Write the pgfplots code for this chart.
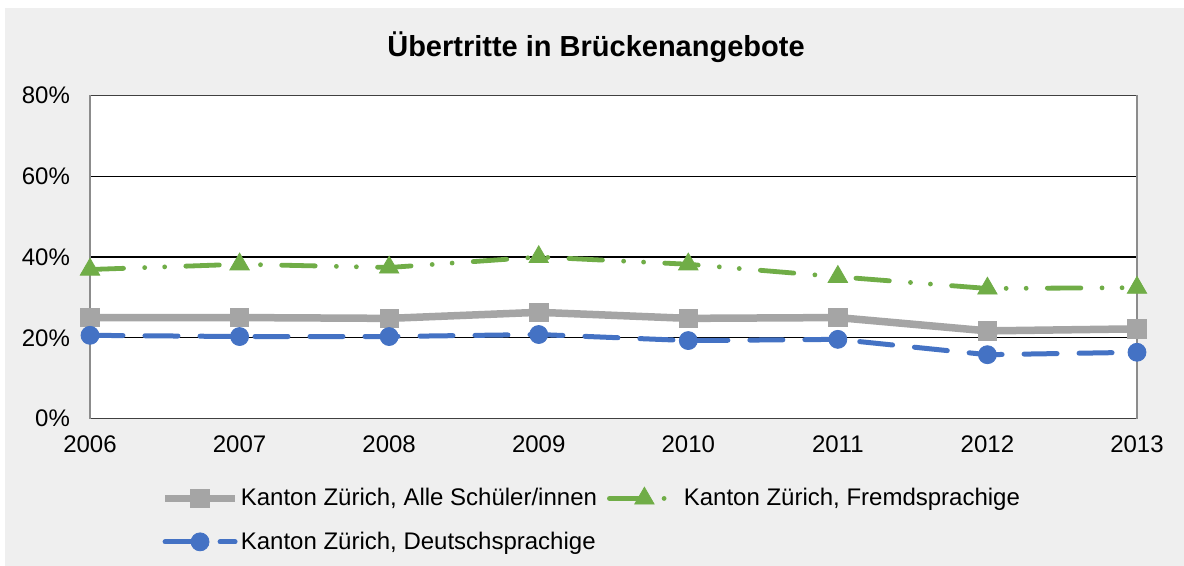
\documentclass[border=0pt]{standalone}
\usepackage{fontspec}
\setmainfont{Liberation Sans}
\usepackage{pgfplots}
\pgfplotsset{compat=1.18}
\definecolor{bg}{HTML}{EFEFEF}
\definecolor{sgray}{HTML}{A5A5A5}
\definecolor{sgreen}{HTML}{70AD47}
\definecolor{sblue}{HTML}{4472C4}
\definecolor{axgray}{HTML}{8C8C8C}
\begin{document}
\begin{tikzpicture}
\fill[white] (0,0) rectangle (592pt,-283pt);
\fill[bg] (2.5pt,-4pt) rectangle (592pt,-283pt);
\begin{axis}[
  at={(45pt,-209.25pt)}, anchor=south west,
  scale only axis, width=523.5pt, height=161.5pt,
  xmin=2006, xmax=2013, ymin=0, ymax=80,
  xtick={2006,2007,2008,2009,2010,2011,2012,2013},
  xticklabels={2006,2007,2008,2009,2010,2011,2012,2013},
  ytick={0,20,40,60,80},
  yticklabels={0\%,20\%,40\%,60\%,80\%},
  tick style={draw=none},
  axis background/.style={fill=white},
  separate axis lines,
  x axis line style={black!75, line width=0.8pt},
  y axis line style={axgray, line width=1pt},
  ymajorgrids, grid style={black, line width=0.6pt},
  clip=false,
  tick label style={font=\fontsize{12}{14}\selectfont},
  yticklabel style={xshift=-6.5pt},
  xticklabel style={yshift=-5pt},
  title={Übertritte in Brückenangebote},
  title style={font=\fontsize{14.5}{17}\selectfont\bfseries, at={(axis description cs:0.5,1)}, anchor=center, yshift=18pt, xshift=-8.75pt},
  legend columns=2,
  legend cell align=left,
  legend style={draw=none, fill=none, font=\fontsize{12}{14}\selectfont,
    at={(axis description cs:0.062,-0.19)}, anchor=north west,
    /tikz/every even column/.append style={column sep=3pt},
    /tikz/every odd column/.append style={column sep=-1pt},
    row sep=7.5pt},
  legend image code/.code={\draw[mark repeat=2,mark phase=2,#1] plot coordinates {(0pt,0pt) (17.5pt,0pt) (35pt,0pt)};},
]
\addplot[sgray, line width=3.75pt, mark=square*, mark size=4.6pt, mark options={solid, line width=0.4pt}]
  coordinates {(2006,25.0) (2007,25.0) (2008,24.8) (2009,26.3) (2010,24.8) (2011,25.0) (2012,21.7) (2013,22.2)};
\addlegendentry{Kanton Zürich, Alle Schüler/innen}
\addplot[sgreen, line width=2.4pt, line cap=round, dash pattern=on 16.75pt off 10.6pt on 0pt off 10pt on 0pt off 10.6pt, mark=triangle*, mark size=5.6pt, mark options={solid, line width=0.4pt}]
  coordinates {(2006,36.9) (2007,38.2) (2008,37.4) (2009,40.0) (2010,38.2) (2011,35.1) (2012,32.2) (2013,32.4)};
\addlegendentry{Kanton Zürich, Fremdsprachige}
\addplot[sblue, line width=2.5pt, line cap=round, dash pattern=on 16.5pt off 11pt, mark=*, mark size=4.5pt, mark options={solid, line width=0.4pt}]
  coordinates {(2006,20.6) (2007,20.3) (2008,20.3) (2009,20.8) (2010,19.3) (2011,19.6) (2012,15.8) (2013,16.4)};
\addlegendentry{Kanton Zürich, Deutschsprachige}
\end{axis}
\pgfresetboundingbox
\path (0,0) rectangle (592pt,-283pt);
\end{tikzpicture}
\end{document}
